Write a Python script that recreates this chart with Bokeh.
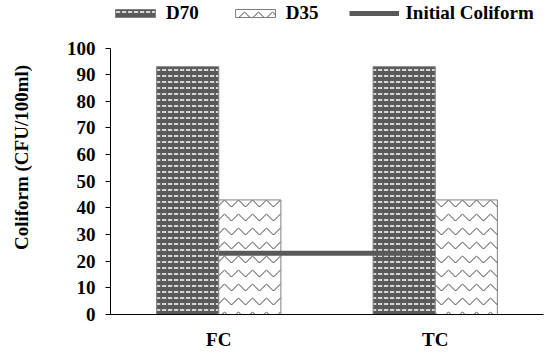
from bokeh.plotting import figure
from bokeh.models import FactorRange, Range1d, Legend, LegendItem, ColumnDataSource
from bokeh.transform import dodge
from bokeh.embed import file_html
from bokeh.resources import INLINE

categories = ["FC", "TC"]
d70 = [93, 93]
d35 = [43, 43]
initial_coliform = [23, 23]
y_ticks = [0, 10, 20, 30, 40, 50, 60, 70, 80, 90, 100]

FONT = "Liberation Serif"

src = ColumnDataSource(dict(cat=categories, d70=d70, d35=d35, init=initial_coliform))

# frame extends to the top of the window; the axis itself stops at 100
y_top = 100 + 48 * 100 / 269
p = figure(width=549, height=352, x_range=FactorRange(*categories, range_padding=0),
           y_range=Range1d(0, y_top), output_backend="svg", toolbar_location=None,
           min_border_left=110, min_border_right=6, min_border_bottom=35, min_border_top=0)
p.outline_line_color = None
p.xgrid.grid_line_color = None
p.ygrid.grid_line_color = None

bw = 0.287
r70 = p.vbar(x=dodge("cat", -bw / 2, range=p.x_range), top="d70", width=bw, source=src,
             fill_color="#595959", line_color="#7f7f7f", line_width=1,
             hatch_pattern="horizontal_dash", hatch_color="white", hatch_scale=6, hatch_weight=1.5)
r35 = p.vbar(x=dodge("cat", bw / 2, range=p.x_range), top="d35", width=bw, source=src,
             fill_color="white", line_color="#7f7f7f", line_width=1,
             hatch_pattern="horizontal_wave", hatch_color="#404040", hatch_scale=14, hatch_weight=1)
rl = p.line(x="cat", y="init", source=src, line_color="#595959", line_width=5)

p.yaxis.ticker = y_ticks
p.yaxis.bounds = (0, 100)
p.yaxis.axis_label = "Coliform (CFU/100ml)"
for ax in (p.xaxis[0], p.yaxis[0]):
    ax.major_label_text_font = FONT
    ax.major_label_text_font_style = "bold"
    ax.major_label_text_font_size = "19px"
    ax.major_label_text_color = "black"
    ax.axis_line_color = "black"
    ax.minor_tick_line_color = None
p.yaxis.axis_label_text_font = FONT
p.yaxis.axis_label_text_font_style = "bold"
p.yaxis.axis_label_text_font_size = "19px"
p.yaxis.axis_label_text_color = "black"
p.yaxis.axis_label_standoff = 32
p.yaxis.major_tick_in = 0
p.yaxis.major_tick_out = 5
p.yaxis.major_label_standoff = 10
p.xaxis.major_tick_line_color = None
p.xaxis.major_label_standoff = 8

legend = Legend(items=[LegendItem(label="D70", renderers=[r70]),
                       LegendItem(label="D35", renderers=[r35]),
                       LegendItem(label="Initial Coliform", renderers=[rl])],
                orientation="horizontal", location=(0, 290),
                glyph_width=50, glyph_height=10, label_standoff=6, spacing=31,
                padding=0, margin=0, border_line_color=None, background_fill_alpha=0,
                label_text_font=FONT, label_text_font_style="bold", label_text_font_size="19px",
                label_text_color="black")
p.add_layout(legend, "center")

open("out.html", "w").write(file_html(p, INLINE))
